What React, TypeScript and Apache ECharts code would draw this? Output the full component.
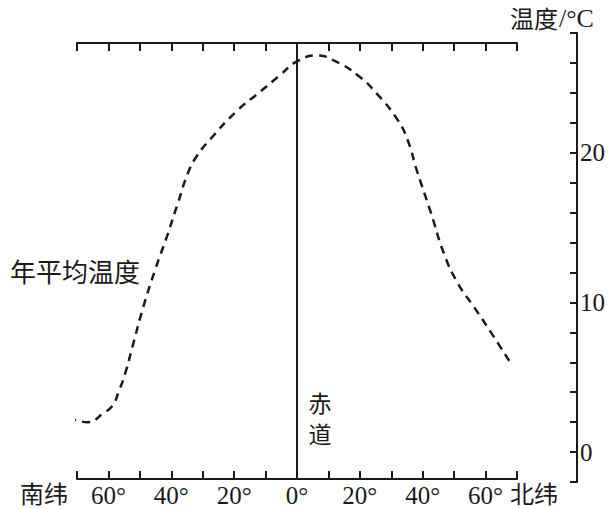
import React, { useEffect, useRef } from "react";
import * as echarts from "echarts";

const latitudes = [-72.7, -66.6, -61.6, -58.7, -56.8, -54.6, -52.4, -48.9, -45.1, -41.4, -37.8, -34.6, -31.8, -27.6, -19.1, -11.6, -5.3, 0, 6.5, 12.3, 19.2, 25.6, 32, 35.1, 38.3, 42.6, 46.7, 51.1, 56.3, 61.7, 68.1];
const temperatures = [2.3, 2.0, 2.6, 3.1, 4.0, 5.3, 7.0, 9.7, 12.2, 14.4, 16.7, 18.7, 19.8, 20.9, 22.8, 24.1, 25.2, 26.1, 26.5, 26.1, 25.2, 23.9, 22.2, 20.9, 18.7, 16, 13.3, 11.3, 9.7, 8, 5.9];
const latLabels = [-60, -40, -20, 0, 20, 40, 60];
const tempLabels = [0, 10, 20];

const SERIF = "Liberation Serif";
const CJK = "Noto Sans CJK SC";
const INK = "#1a1a1a";

export default function App() {
  const ref = useRef<HTMLDivElement>(null);
  useEffect(() => {
    if (!ref.current) return;
    const chart = echarts.init(ref.current, null, { renderer: "svg" });
    const axisLineStyle = { color: INK, width: 2 };
    chart.setOption({
      animation: false,
      grid: [
        { left: 77, right: 93, top: 43, bottom: 30 },
        { left: 77, right: 93, top: 33, bottom: 27 },
      ],
      xAxis: [
        {
          type: "value",
          gridIndex: 0,
          position: "top",
          min: -70,
          max: 70,
          interval: 10,
          splitLine: { show: false },
          axisLine: { show: true, onZero: false, lineStyle: axisLineStyle },
          axisTick: { show: true, inside: true, length: 8, lineStyle: { color: INK, width: 2 } },
          axisLabel: { show: false },
        },
        {
          type: "value",
          gridIndex: 0,
          position: "bottom",
          min: -70,
          max: 70,
          interval: 10,
          splitLine: { show: false },
          axisLine: { show: true, onZero: false, lineStyle: axisLineStyle },
          axisTick: { show: true, inside: true, length: 8, lineStyle: { color: INK, width: 2 } },
          axisLabel: {
            show: true,
            margin: 4,
            color: INK,
            fontFamily: SERIF,
            fontSize: 25,
            formatter: (v: number) => (latLabels.includes(v) ? Math.abs(v) + "°" : ""),
          },
        },
        {
          type: "value",
          gridIndex: 1,
          min: -70,
          max: 70,
          show: false,
        },
      ],
      yAxis: [
        { type: "value", gridIndex: 0, min: 0, max: 1, show: false },
        {
          type: "value",
          gridIndex: 1,
          position: "right",
          offset: 60,
          min: -2,
          max: 28,
          interval: 2,
          splitLine: { show: false },
          axisLine: { show: true, onZero: false, lineStyle: axisLineStyle },
          axisTick: { show: true, inside: true, length: 7, lineStyle: { color: INK, width: 2 } },
          axisLabel: {
            show: true,
            margin: 3,
            color: INK,
            fontFamily: SERIF,
            fontSize: 25,
            formatter: (v: number) => (tempLabels.includes(v) ? String(v) : ""),
          },
        },
      ],
      series: [
        {
          type: "line",
          xAxisIndex: 0,
          yAxisIndex: 0,
          data: [[0, 0.5]],
          symbol: "none",
          lineStyle: { opacity: 0 },
          markLine: {
            silent: true,
            symbol: ["none", "none"],
            label: { show: false },
            lineStyle: { color: INK, width: 2, type: "solid" },
            data: [{ xAxis: 0 }],
          },
        },
        {
          type: "line",
          xAxisIndex: 2,
          yAxisIndex: 1,
          data: latitudes.map((lat, i) => [lat, temperatures[i]]),
          smooth: 0.5,
          clip: false,
          showSymbol: false,
          symbol: "none",
          lineStyle: { color: INK, width: 2.5, type: [8, 6] },
        },
      ],
      graphic: [
        {
          type: "text",
          x: 44,
          y: 492,
          style: { text: "南纬", fontFamily: CJK, fontSize: 24, fill: INK, align: "center", verticalAlign: "middle" },
        },
        {
          type: "text",
          x: 534,
          y: 492,
          style: { text: "北纬", fontFamily: CJK, fontSize: 24, fill: INK, align: "center", verticalAlign: "middle" },
        },
        {
          type: "text",
          x: 510,
          y: 17,
          style: { text: "温度", fontFamily: CJK, fontSize: 24, lineHeight: 24, fill: INK, align: "left", verticalAlign: "middle" },
        },
        {
          type: "text",
          x: 559,
          y: 18,
          style: { text: "/°C", font: "26px Liberation Serif", fill: INK, align: "left", verticalAlign: "middle" },
        },
        {
          type: "text",
          x: 75,
          y: 270,
          style: { text: "年平均温度", fontFamily: CJK, fontSize: 26, fill: INK, align: "center", verticalAlign: "middle" },
        },
        {
          type: "text",
          x: 320,
          y: 402,
          style: { text: "赤", fontFamily: CJK, fontSize: 23, lineHeight: 23, fill: INK, align: "center", verticalAlign: "middle" },
        },
        {
          type: "text",
          x: 320,
          y: 433,
          style: { text: "道", fontFamily: CJK, fontSize: 23, lineHeight: 23, fill: INK, align: "center", verticalAlign: "middle" },
        },
      ],
    });
    return () => chart.dispose();
  }, []);
  return <div ref={ref} style={{ width: 610, height: 509, position: "absolute", left: 0, top: 0 }} />;
}
